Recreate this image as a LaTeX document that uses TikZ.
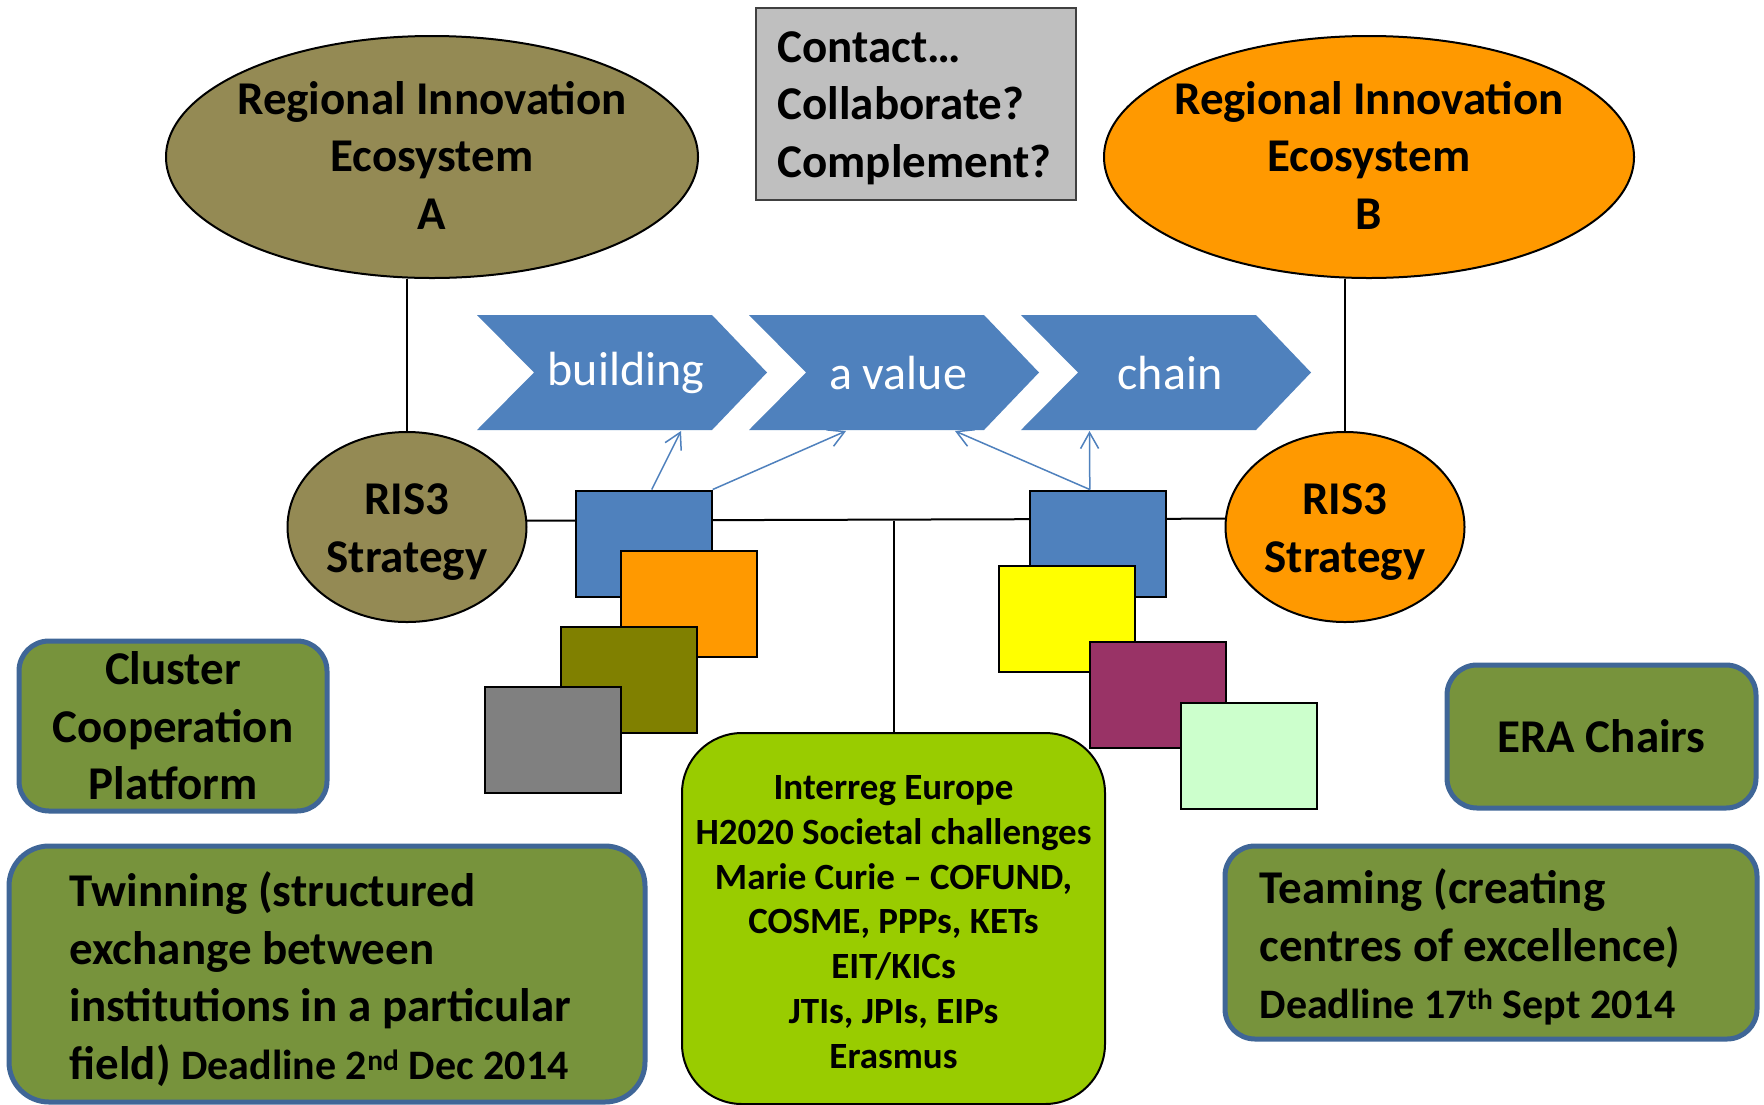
\documentclass[tikz,border=0pt]{standalone}
\usepackage{fontspec}
\setmainfont{Carlito}
\usetikzlibrary{shapes.geometric,arrows.meta,calc}
\definecolor{cblue}{HTML}{4F81BD}
\definecolor{ctan}{HTML}{948A54}
\definecolor{corange}{HTML}{FF9900}
\definecolor{colive}{HTML}{808000}
\definecolor{cgray}{HTML}{808080}
\definecolor{cyellow}{HTML}{FFFF00}
\definecolor{cplum}{HTML}{993366}
\definecolor{cmint}{HTML}{CCFFCC}
\definecolor{clime}{HTML}{99CC00}
\definecolor{cgreen}{HTML}{77933C}
\definecolor{cborder}{HTML}{3F6697}
\definecolor{csilver}{HTML}{BFBFBF}
\begin{document}
\begin{tikzpicture}[x=1pt,y=-1pt,
  big/.style={font=\fontsize{47}{57.5}\selectfont\bfseries},
  ell/.style={ellipse, draw=black, line width=2pt, inner sep=0pt},
  sq/.style={rectangle, draw=black, line width=2pt, minimum width=136pt, minimum height=106pt, inner sep=0pt},
  gbox/.style={rectangle, rounded corners=30pt, fill=cgreen, draw=cborder, line width=5pt, inner sep=0pt},
  link/.style={draw=cblue, line width=1.5pt, -{Straight Barb[length=16pt,width=18pt]}},
  conn/.style={draw=black, line width=2pt},
  chevtext/.style={text=white, font=\fontsize{48}{58}\selectfont}
]
\fill[white] (0,0) rectangle (1764,1104);
\useasboundingbox (0,0) rectangle (1764,1104);

% top ellipses
\node[ell, fill=ctan, minimum width=532pt, minimum height=242pt] (ellA) at (432,157) {};
\node[big, align=center] (ellAt) at (432,155) {Regional Innovation\\Ecosystem\\A};
\node[ell, fill=corange, minimum width=530pt, minimum height=242pt] (ellB) at (1369,157) {};
\node[big, align=center] (ellBt) at (1369,155) {Regional Innovation\\Ecosystem\\B};

% RIS3 ellipses
\node[ell, fill=ctan, minimum width=239pt, minimum height=190pt] (risA) at (407,527) {};
\node[big, align=center] (risAt) at (407,532) {RIS3\\Strategy};
\node[ell, fill=corange, minimum width=239pt, minimum height=190pt] (risB) at (1345,527) {};
\node[big, align=center] (risBt) at (1345,532) {RIS3\\Strategy};

% contact box
\node[rectangle, fill=csilver, draw=black!75, line width=1.5pt, minimum width=320pt, minimum height=192pt, inner sep=0pt] (contact) at (916,104) {};
\node[big, align=left, anchor=west] (contactt) at (774,108) {Contact…\\Collaborate?\\Complement?};

% centre programme box
\node[rectangle, rounded corners=60pt, fill=clime, draw=black, line width=2pt,
      minimum width=423pt, minimum height=371pt, inner sep=0pt] (lime) at (893.5,918.5) {};
\node[font=\fontsize{37}{44.8}\selectfont\bfseries, align=center] (limet) at (893.5,922)
  {Interreg Europe\\H2020 Societal challenges\\Marie Curie – COFUND,\\COSME, PPPs, KETs\\EIT/KICs\\JTIs, JPIs, EIPs\\Erasmus};

% chevrons
\foreach \L/\n/\t in {477/c1/building, 749/c2/{a value}, 1021/c3/chain} {
  \fill[cblue] (\L,315) -- (\L+235,315) -- (\L+290,372.5) -- (\L+235,430) -- (\L,430) -- (\L+57,372.5) -- cycle;
  \node[chevtext] (\n) at (\L+149,373) {\t};
}
\coordinate (c1b) at (681,431);
\coordinate (c2bl) at (846,431);
\coordinate (c2br) at (955,431);
\coordinate (c3b) at (1089.5,431);

% connectors
\draw[conn] (ellA.south -| risA.north) -- (risA.north);
\draw[conn] (ellB.south -| risB.north) -- (risB.north);
\draw[conn] (risA.3.5) -- (risB.176.5);
\draw[conn] (lime.north |- risA.3.5) -- (lime.north);

% squares, left group
\node[sq, fill=cblue] (sqL1) at (643.7,543.5) {};
\node[sq, fill=corange] (sqL2) at (689,604.3) {};
\node[sq, fill=colive] (sqL3) at (628.8,679.7) {};
\node[sq, fill=cgray] (sqL4) at (553,739.8) {};
% squares, right group
\node[sq, fill=cblue] (sqR1) at (1097.8,543.5) {};
\node[sq, fill=cyellow] (sqR2) at (1067.1,619) {};
\node[sq, fill=cplum] (sqR3) at (1158,694.5) {};
\node[sq, fill=cmint] (sqR4) at (1248.8,755.5) {};

% arrows to chevrons
\draw[link] ($(sqL1.north)+(8,0)$) -- (c1b);
\draw[link] (sqL1.north east) -- (c2bl);
\draw[link] ($(sqR1.north)+(-8,0)$) -- (c2br);
\draw[link] ($(sqR1.north)+(-8,0)$) -- (c3b);

% green rounded boxes
\node[gbox, minimum width=308pt, minimum height=170pt, big, align=center] (cluster) at (173,726) {Cluster\\Cooperation\\Platform};
\node[gbox, minimum width=309pt, minimum height=143pt, big] (era) at (1601.5,736.5) {ERA Chairs};
\node[gbox, minimum width=532pt, minimum height=193pt] (team) at (1491,942.5) {};
\node[big, align=left, anchor=west] (teamt) at (1256,947) {Teaming (creating\\centres of excellence)\\{\fontsize{42}{52}\selectfont Deadline 17\textsuperscript{th} Sept 2014}};
\node[gbox, rounded corners=40pt, minimum width=636pt, minimum height=256pt] (twin) at (327,974) {};
\node[big, align=left, anchor=west] (twint) at (66,979) {Twinning (structured\\exchange between\\institutions in a particular\\field) {\fontsize{42}{52}\selectfont Deadline 2\textsuperscript{nd} Dec 2014}};
\end{tikzpicture}
\end{document}
